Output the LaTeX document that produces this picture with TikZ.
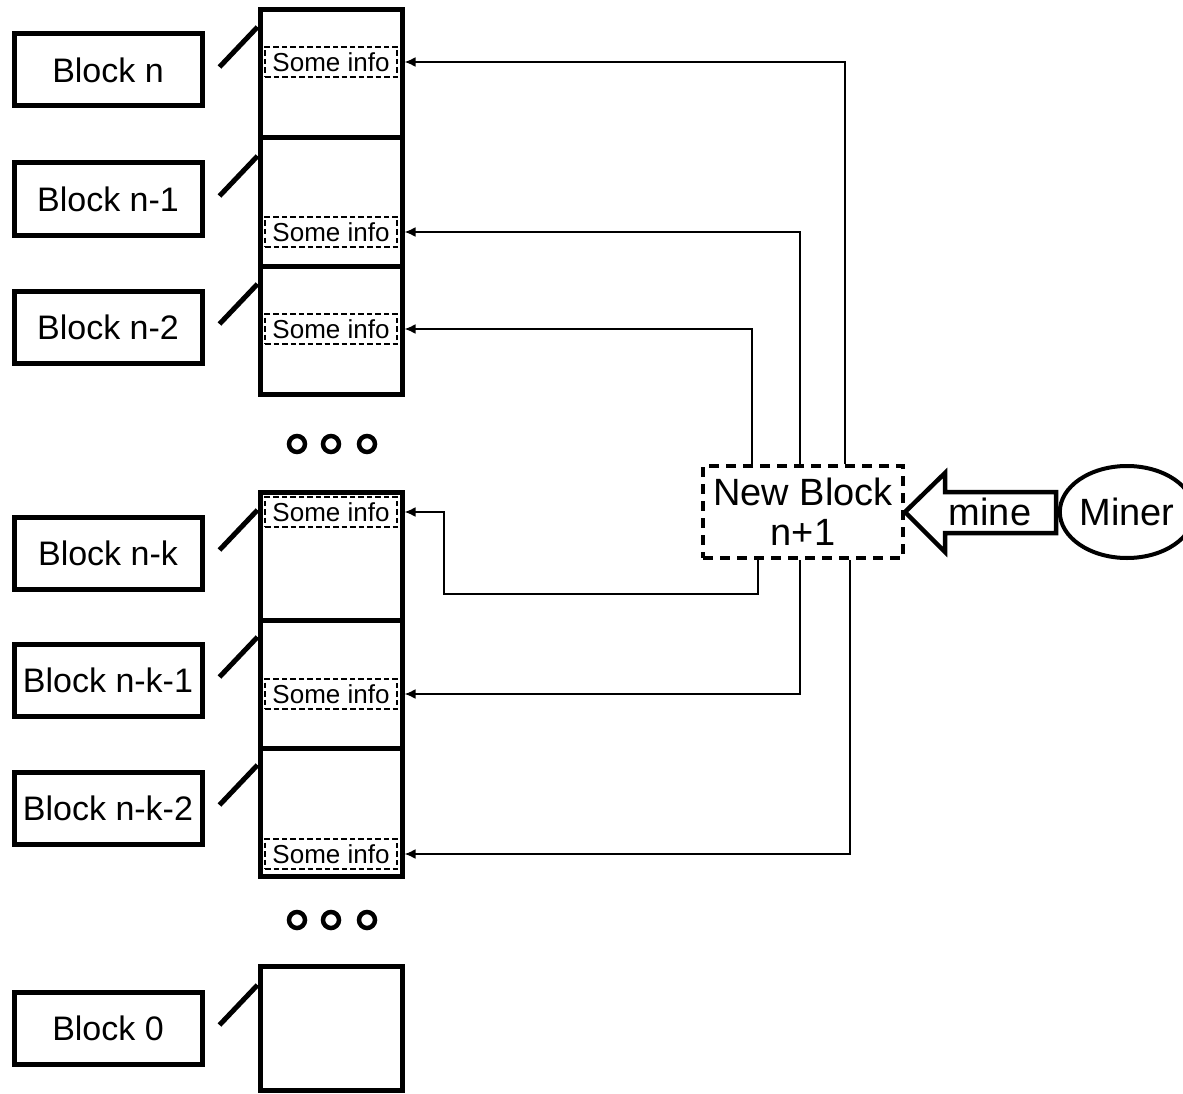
\documentclass[tikz,border=0pt]{standalone}
\usepackage{fontspec}
\setmainfont{Liberation Sans}
\usetikzlibrary{calc,arrows.meta,shapes.geometric}
\begin{document}
\begin{tikzpicture}[x=1pt,y=-1pt,
  lbl/.style={draw,line width=5pt,minimum width=188pt,minimum height=72pt,inner sep=0pt,font=\fontsize{34}{38}\selectfont},
  cell/.style={draw,line width=5pt,minimum width=142pt,inner sep=0pt},
  info/.style={draw,dashed,dash pattern=on 5.5pt off 3pt,line width=2.2pt,minimum width=132pt,minimum height=30pt,inner sep=0pt,font=\fontsize{26}{28}\selectfont},
  slash/.style={line width=5pt},
  arr/.style={line width=2pt,-{Latex[length=11pt,width=10pt]}},
  dot/.style={line width=4.5pt}
]
\useasboundingbox (0,0) rectangle (1183,1094);
\fill[white] (0,0) rectangle (1183,1094);

% chain cells
\node[cell,minimum height=128pt] (c1) at (331,74) {};
\node[cell,minimum height=128pt] (c2) at (331,202) {};
\node[cell,minimum height=128pt] (c3) at (331,330) {};
\node[cell,minimum height=128pt] (c4) at (331,556) {};
\node[cell,minimum height=128pt] (c5) at (331,684) {};
\node[cell,minimum height=128pt] (c6) at (331,812) {};
\node[cell,minimum height=124pt] (c7) at (331,1028) {};

% info boxes
\node[info] (i1) at (331,62) {Some info};
\node[info] (i2) at (331,232) {Some info};
\node[info] (i3) at (331,329) {Some info};
\node[info] (i4) at (331,512) {Some info};
\node[info] (i5) at (331,694) {Some info};
\node[info] (i6) at (331,854) {Some info};

% labels
\node[lbl] (b1) at (108,70) {Block n};
\node[lbl] (b2) at (108,199) {Block n-1};
\node[lbl] (b3) at (108,327) {Block n-2};
\node[lbl] (b4) at (108,553) {Block n-k};
\node[lbl] (b5) at (108,680) {Block n-k-1};
\node[lbl] (b6) at (108,808) {Block n-k-2};
\node[lbl] (b7) at (108,1028) {Block 0};

\foreach \b in {b1,b2,b3,b4,b5,b6,b7}{
  \draw[slash] ($(\b.east)+(15,-3)$) -- ($(\b.east)+(53,-43)$);
}

% dots
\foreach \y in {444,920}{
  \foreach \x in {297,331,367}{
    \draw[dot] (\x,\y) circle (8pt);
  }
}

% new block
\node[draw,dashed,dash pattern=on 10pt off 7pt,line width=4pt,minimum width=200pt,minimum height=92pt,inner sep=0pt,align=center,font=\fontsize{38}{40}\selectfont] (nb) at (803,512) {New Block\\n+1};

% connectors
\draw[arr] ($(nb.north)+(42,0)$) |- (i1.east -| c1.east);
\draw[arr] ($(nb.north)+(-3,0)$) |- (i2.east -| c2.east);
\draw[arr] ($(nb.north)+(-51,0)$) |- (i3.east -| c3.east);
\draw[arr] ($(nb.south)+(-45,0)$) -- ++(0,34) -| (444,512) -- (i4.east -| c4.east);
\draw[arr] ($(nb.south)+(-3,0)$) |- (i5.east -| c5.east);
\draw[arr] ($(nb.south)+(47,0)$) |- (i6.east -| c6.east);

% mine arrow
\draw[line width=4.5pt,line join=miter] (905,512) -- (945,473) -- (945,492) -- (1056,492) -- (1056,533) -- (945,533) -- (945,552) -- cycle;
\node[font=\fontsize{38}{42}\selectfont] (mine) at (990,512) {mine};

% miner
\node[draw,ellipse,line width=4pt,minimum width=124pt,minimum height=92pt,inner sep=0pt,font=\fontsize{38}{42}\selectfont] (miner) at (1127,512) {Miner};
\end{tikzpicture}
\end{document}
